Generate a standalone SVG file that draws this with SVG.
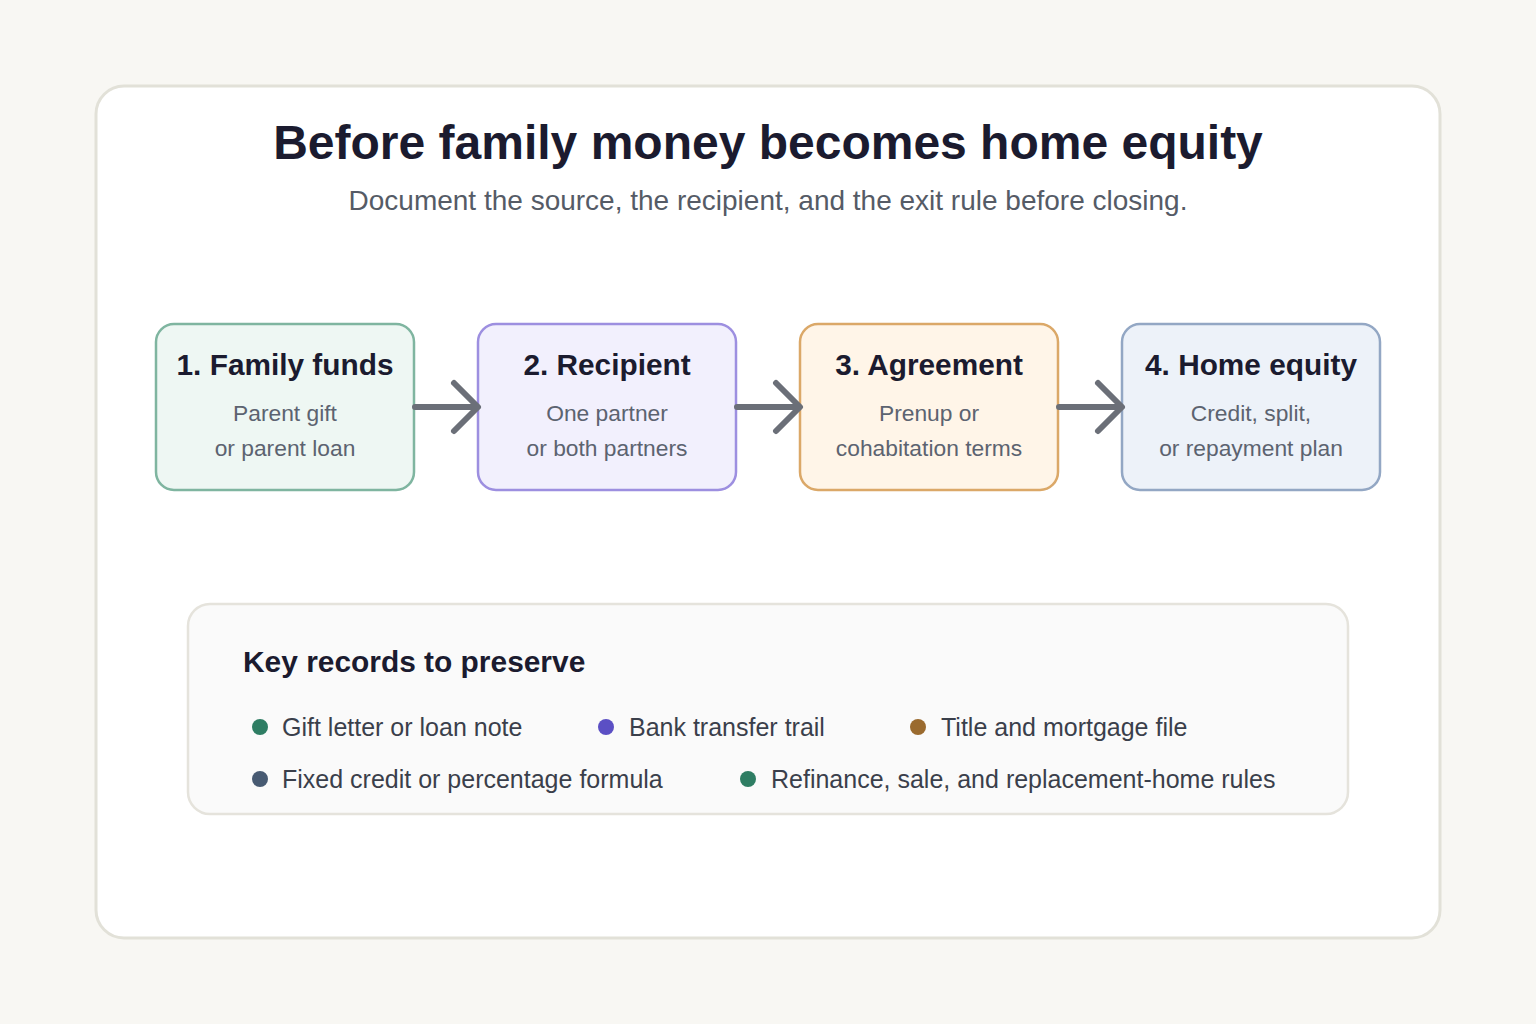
<svg xmlns="http://www.w3.org/2000/svg" width="1536" height="1024" viewBox="0 0 1536 1024">
<defs>
<style>
.t{font-family:"Liberation Sans",Arial,sans-serif}
.title{font-size:48px;font-weight:bold;fill:#1b1b2f}
.sub{font-size:28px;fill:#555b66}
.nt{font-size:29.8px;font-weight:bold;fill:#1b1b2f}
.nd{font-size:22.8px;fill:#5c6370}
.kt{font-size:29.9px;font-weight:bold;fill:#1b1b2f}
.li{font-size:25px;fill:#3a3f4b}
.arrow{fill:none;stroke:#6b6f78;stroke-width:6;stroke-linecap:round;stroke-linejoin:round}
</style>
</defs>
<rect width="1536" height="1024" fill="#f8f7f3"/>
<rect x="96" y="86" width="1344" height="852" rx="28" fill="#ffffff" stroke="#e2e1d8" stroke-width="3"/>
<text class="t title" x="768" y="159" text-anchor="middle">Before family money becomes home equity</text>
<text class="t sub" x="768" y="210" text-anchor="middle">Document the source, the recipient, and the exit rule before closing.</text>

<g id="node1">
<rect x="156" y="324" width="258" height="166" rx="18" fill="#eef7f3" stroke="#7fb5a0" stroke-width="2.5"/>
<text class="t nt" x="285" y="375" text-anchor="middle">1. Family funds</text>
<text class="t nd" x="285" y="421" text-anchor="middle">Parent gift</text>
<text class="t nd" x="285" y="456" text-anchor="middle">or parent loan</text>
</g>
<g id="node2">
<rect x="478" y="324" width="258" height="166" rx="18" fill="#f2f0fd" stroke="#9d8fe0" stroke-width="2.5"/>
<text class="t nt" x="607" y="375" text-anchor="middle">2. Recipient</text>
<text class="t nd" x="607" y="421" text-anchor="middle">One partner</text>
<text class="t nd" x="607" y="456" text-anchor="middle">or both partners</text>
</g>
<g id="node3">
<rect x="800" y="324" width="258" height="166" rx="18" fill="#fff5e8" stroke="#dba868" stroke-width="2.5"/>
<text class="t nt" x="929" y="375" text-anchor="middle">3. Agreement</text>
<text class="t nd" x="929" y="421" text-anchor="middle">Prenup or</text>
<text class="t nd" x="929" y="456" text-anchor="middle">cohabitation terms</text>
</g>
<g id="node4">
<rect x="1122" y="324" width="258" height="166" rx="18" fill="#edf2f9" stroke="#93a7c4" stroke-width="2.5"/>
<text class="t nt" x="1251" y="375" text-anchor="middle">4. Home equity</text>
<text class="t nd" x="1251" y="421" text-anchor="middle">Credit, split,</text>
<text class="t nd" x="1251" y="456" text-anchor="middle">or repayment plan</text>
</g>

<g id="connectors">
<path class="arrow" d="M415 407 H477 M454 383 L478 407 L454 431"/>
<path class="arrow" d="M737 407 H799 M776 383 L800 407 L776 431"/>
<path class="arrow" d="M1059 407 H1121 M1098 383 L1122 407 L1098 431"/>
</g>

<g id="records">
<rect x="188" y="604" width="1160" height="210" rx="22" fill="#fafafa" stroke="#e5e3dc" stroke-width="2.5"/>
<text class="t kt" x="243" y="672">Key records to preserve</text>
<circle cx="260" cy="727" r="8" fill="#2e7d63"/>
<text class="t li" x="282" y="736">Gift letter or loan note</text>
<circle cx="606" cy="727" r="8" fill="#5b4fc4"/>
<text class="t li" x="629" y="736">Bank transfer trail</text>
<circle cx="918" cy="727" r="8" fill="#9a6a2e"/>
<text class="t li" x="941" y="736">Title and mortgage file</text>
<circle cx="260" cy="779" r="8" fill="#475a72"/>
<text class="t li" x="282" y="788">Fixed credit or percentage formula</text>
<circle cx="748" cy="779" r="8" fill="#2e7d63"/>
<text class="t li" x="771" y="788">Refinance, sale, and replacement-home rules</text>
</g>
</svg>
